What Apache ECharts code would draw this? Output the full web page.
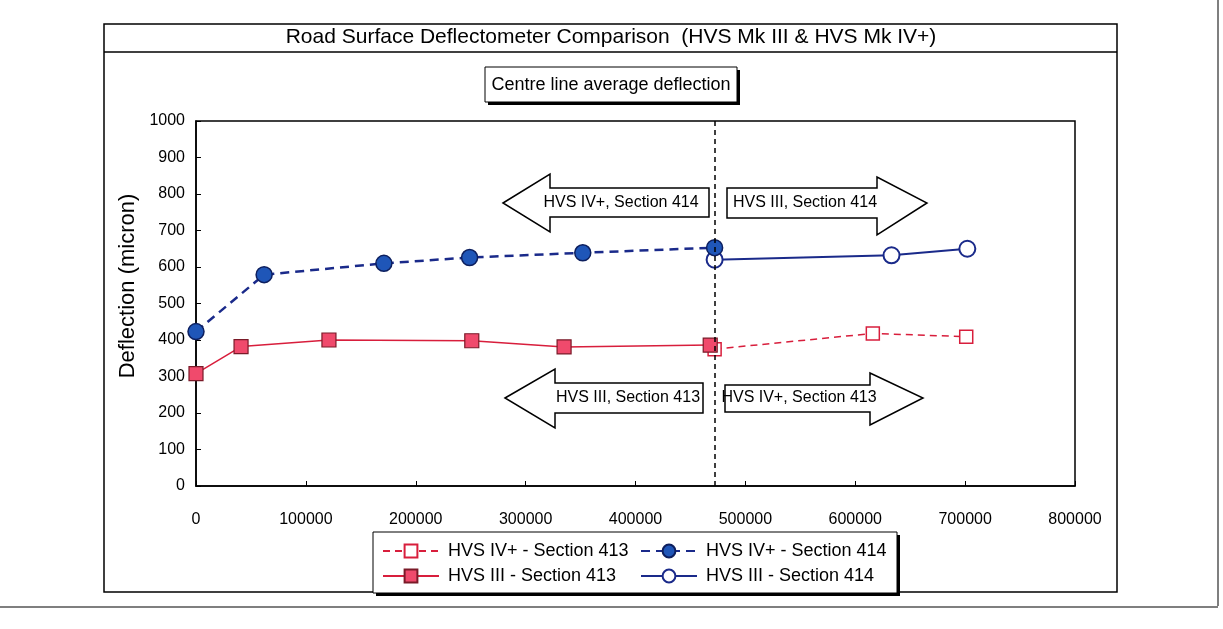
<!DOCTYPE html>
<html>
<head>
<meta charset="utf-8">
<script src="https://cdn.jsdelivr.net/npm/echarts@6/dist/echarts.min.js"></script>
<style>
html,body{margin:0;padding:0;background:#fff;}
#chart{width:1223px;height:629px;}
</style>
</head>
<body>
<div id="chart"></div>
<script>
const FONT = "'Liberation Sans', Arial, sans-serif";
const titleText = 'Road Surface Deflectometer Comparison  (HVS Mk III & HVS Mk IV+)';
const subtitleText = 'Centre line average deflection';
const yAxisName = 'Deflection (micron)';
const seriesNames = ['HVS IV+ - Section 413', 'HVS IV+ - Section 414', 'HVS III - Section 413', 'HVS III - Section 414'];

// [load repetitions, deflection (micron)]
const hvs4Sec413 = [[472000, 375], [616000, 418], [701000, 409]];
const hvs4Sec414 = [[0, 423], [62000, 579], [171000, 610], [249000, 626], [352000, 639], [472000, 653]];
const hvs3Sec413 = [[0, 308], [41000, 382], [121000, 400], [251000, 398], [335000, 381], [468000, 386]];
const hvs3Sec414 = [[472000, 620], [633000, 632], [702000, 650]];
const changeoverX = 472000;

const arrowLabels = ['HVS IV+, Section 414', 'HVS III, Section 414', 'HVS III, Section 413', 'HVS IV+, Section 413'];

const chart = echarts.init(document.getElementById('chart'));

function arrow(points, label, tx, ty, fs) {
  return [
    { type: 'polygon', shape: { points: points }, style: { fill: '#fff', stroke: '#000', lineWidth: 1.5 }, z: 5 },
    { type: 'text', x: tx, y: ty, style: { text: label, fontSize: fs, fontFamily: FONT, fill: '#000', align: 'center', verticalAlign: 'middle' }, z: 6 }
  ];
}

const graphics = [
  // page edges
  { type: 'line', shape: { x1: 1218, y1: 0, x2: 1218, y2: 606 }, style: { stroke: '#555', lineWidth: 1.5 }, z: 0 },
  { type: 'line', shape: { x1: 0, y1: 607, x2: 1218, y2: 607 }, style: { stroke: '#555', lineWidth: 1.5 }, z: 0 },
  // outer chart box
  { type: 'rect', shape: { x: 104, y: 24, width: 1013, height: 568 }, style: { fill: 'none', stroke: '#000', lineWidth: 1.5 }, z: 0 },
  { type: 'line', shape: { x1: 104, y1: 52, x2: 1117, y2: 52 }, style: { stroke: '#000', lineWidth: 1.5 }, z: 0 },
  { type: 'text', x: 611, y: 37, style: { text: titleText, fontSize: 21, fontFamily: FONT, fill: '#000', align: 'center', verticalAlign: 'middle' }, z: 2 },
  // subtitle box with shadow
  { type: 'rect', shape: { x: 488, y: 70, width: 252, height: 35 }, style: { fill: '#000' }, z: 1 },
  { type: 'rect', shape: { x: 485, y: 67, width: 252, height: 35 }, style: { fill: '#fff', stroke: '#000', lineWidth: 1 }, z: 2 },
  { type: 'text', x: 611, y: 85, style: { text: subtitleText, fontSize: 18, fontFamily: FONT, fill: '#000', align: 'center', verticalAlign: 'middle' }, z: 3 },
  // y axis title
  { type: 'text', x: 128, y: 286, rotation: Math.PI / 2, style: { text: yAxisName, fontSize: 22, fontFamily: FONT, fill: '#000', align: 'center', verticalAlign: 'middle' }, z: 3 },
  // legend box with shadow
  { type: 'rect', shape: { x: 376, y: 535, width: 524, height: 61 }, style: { fill: '#000' }, z: 1 },
  { type: 'rect', shape: { x: 373, y: 532, width: 524, height: 61 }, style: { fill: '#fff', stroke: '#000', lineWidth: 1 }, z: 2 }
]
.concat(arrow([[503,203],[550,174],[550,188],[709,188],[709,217],[550,217],[550,232]], arrowLabels[0], 621, 203, 16))
.concat(arrow([[727,188],[877,188],[877,177],[927,203],[877,235],[877,218],[727,218]], arrowLabels[1], 805, 203, 16))
.concat(arrow([[505,398],[555,369],[555,383],[703,383],[703,413],[555,413],[555,428]], arrowLabels[2], 628, 398, 16))
.concat(arrow([[725,385],[870,385],[870,373],[923,398],[870,425],[870,412],[725,412]], arrowLabels[3], 799, 398, 16));

const blue = '#1a2a8a';
const red = '#d81e3c';
const plainNum = function (v) { return String(v); };

const legendCommon = { orient: 'vertical', top: 537, itemWidth: 56, itemHeight: 16, itemGap: 7,
  textStyle: { fontSize: 18, color: '#000', fontFamily: FONT, padding: [0, 0, 0, 4] }, z: 10 };

const option = {
  animation: false,
  backgroundColor: '#fff',
  textStyle: { fontFamily: FONT },
  grid: { left: 196, top: 121, right: 148, bottom: 143, show: true, borderColor: '#000', borderWidth: 1.5, backgroundColor: 'transparent' },
  legend: [
    Object.assign({ left: 377, data: [seriesNames[0], seriesNames[2]] }, legendCommon),
    Object.assign({ left: 635, data: [seriesNames[1], seriesNames[3]] }, legendCommon)
  ],
  xAxis: {
    type: 'value', min: 0, max: 800000, interval: 100000,
    axisLine: { show: true, lineStyle: { color: '#000', width: 1.5 } },
    axisTick: { show: true, inside: true, length: 5, lineStyle: { color: '#000', width: 1 } },
    axisLabel: { color: '#000', fontSize: 16, margin: 26, fontFamily: FONT, formatter: plainNum },
    splitLine: { show: false }
  },
  yAxis: {
    type: 'value', min: 0, max: 1000, interval: 100,
    axisLine: { show: true, lineStyle: { color: '#000', width: 1.5 } },
    axisTick: { show: true, inside: true, length: 5, lineStyle: { color: '#000', width: 1 } },
    axisLabel: { color: '#000', fontSize: 16, margin: 11, fontFamily: FONT, formatter: plainNum },
    splitLine: { show: false }
  },
  series: [
    { name: seriesNames[0], type: 'line', data: hvs4Sec413, symbol: 'rect', symbolSize: 13, z: 3,
      lineStyle: { color: red, width: 1.5, type: [7, 5] },
      itemStyle: { color: '#fff', borderColor: red, borderWidth: 1.5 } },
    { name: seriesNames[1], type: 'line', data: hvs4Sec414, symbol: 'circle', symbolSize: 16, z: 4,
      lineStyle: { color: blue, width: 2.5, type: [9, 6] },
      itemStyle: { color: '#1f56b8', borderColor: '#0d1f5e', borderWidth: 1.5 },
      markLine: { silent: true, symbol: 'none', label: { show: false },
        lineStyle: { color: '#000', type: [5, 4], width: 1.5 },
        data: [{ xAxis: changeoverX }] } },
    { name: seriesNames[2], type: 'line', data: hvs3Sec413, symbol: 'rect', symbolSize: 14, z: 4,
      lineStyle: { color: red, width: 1.5 },
      itemStyle: { color: '#f04a6c', borderColor: '#7a1a28', borderWidth: 1.2 } },
    { name: seriesNames[3], type: 'line', data: hvs3Sec414, symbol: 'circle', symbolSize: 16, z: 3,
      lineStyle: { color: blue, width: 2 },
      itemStyle: { color: '#fff', borderColor: blue, borderWidth: 2 } }
  ],
  graphic: graphics
};
chart.setOption(option);
</script>
</body>
</html>
